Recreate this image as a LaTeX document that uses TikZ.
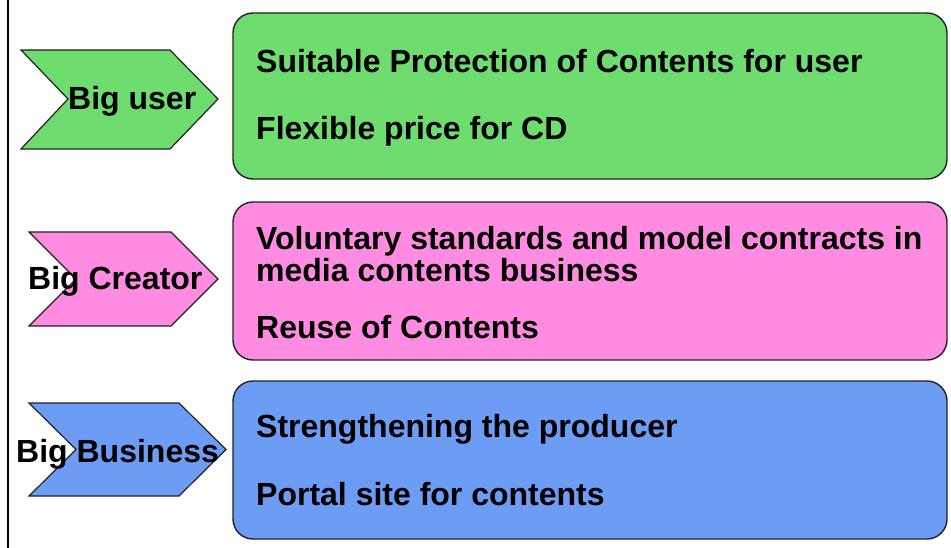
\documentclass[tikz,border=0pt]{standalone}
\usepackage{fontspec}
\setmainfont{Liberation Sans}
\usepackage{xcolor}
\usepackage{tikz}
\usetikzlibrary{positioning}
\definecolor{userfill}{HTML}{6EDC6E}
\definecolor{creatorfill}{HTML}{FF8CE0}
\definecolor{businessfill}{HTML}{6C9CF4}
\definecolor{edgegray}{HTML}{222222}
\tikzset{
  every node/.style={font=\fontsize{32}{32}\selectfont\bfseries, inner sep=0pt},
  chevron/.style={draw=edgegray, line width=1.2pt, line join=miter},
  panel/.style={draw=edgegray, line width=1.4pt, rounded corners=20pt},
  item/.style={anchor=base west},
  tag/.style={anchor=base west},
}
\begin{document}
\begin{tikzpicture}[x=1pt,y=-1pt]
  \useasboundingbox (0,0) rectangle (951,548);
  \fill[white] (0,0) rectangle (951,548);
  \draw[black, line width=2pt] (8,0) -- (8,548);

  \filldraw[panel, fill=userfill] (233,13) rectangle (947,179);
  \filldraw[panel, fill=creatorfill] (233,202) rectangle (947,360);
  \filldraw[panel, fill=businessfill] (233,381) rectangle (947,539);

  \filldraw[chevron, fill=userfill] (21,50) -- (170,50) -- (218,99) -- (170,149) -- (21,149) -- (68,99) -- cycle;
  \filldraw[chevron, fill=creatorfill] (29,232) -- (171,232) -- (218,279) -- (171,326) -- (29,326) -- (76,279) -- cycle;
  \filldraw[chevron, fill=businessfill] (29,403) -- (179,403) -- (226,449.5) -- (179,496) -- (29,496) -- (76,449.5) -- cycle;

  \node[tag] (userTag) at (68,110) {Big user};
  \node[tag] (creatorTag) at (28,290) {Big Creator};
  \node[tag] (businessTag) at (16,462) {Big Business};

  \node[item] (userA) at (256,73) {Suitable Protection of Contents for user};
  \node[item] (userB) at (256,140) {Flexible price for CD};
  \node[item] (creatorA) at (256,250) {Voluntary standards and model contracts in};
  \node[item] (creatorB) at (256,282) {media contents business};
  \node[item] (creatorC) at (256,338) {Reuse of Contents};
  \node[item] (businessA) at (256,437) {Strengthening the producer};
  \node[item] (businessB) at (256,505) {Portal site for contents};
\end{tikzpicture}
\end{document}
